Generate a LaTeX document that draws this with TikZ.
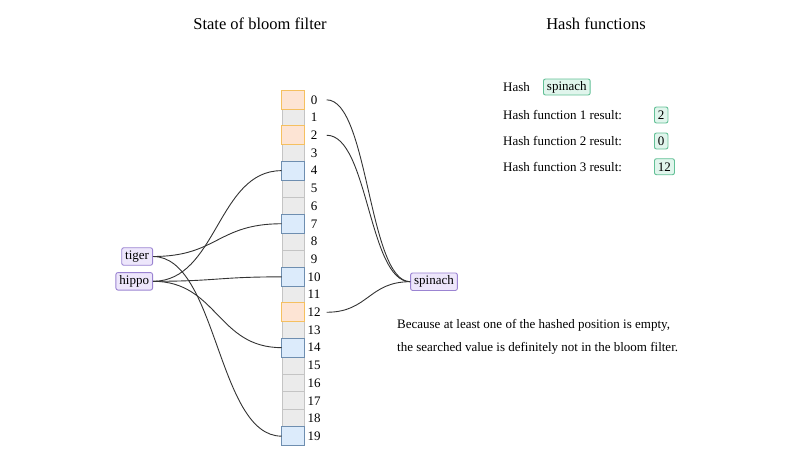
\documentclass[tikz,border=0pt]{standalone}
\usepackage{fontspec}
\setmainfont{Liberation Serif}
\usetikzlibrary{positioning,calc}
\definecolor{freefill}{HTML}{EBEBEB}
\definecolor{freeline}{HTML}{C4C4C4}
\definecolor{setfill}{HTML}{DCEBFB}
\definecolor{setline}{HTML}{6E8EB0}
\definecolor{probefill}{HTML}{FDE4D4}
\definecolor{probeline}{HTML}{F5C060}
\definecolor{itemfill}{HTML}{EDE6FB}
\definecolor{itemline}{HTML}{9B84D2}
\definecolor{hashfill}{HTML}{E0F5EC}
\definecolor{hashline}{HTML}{62C096}
\definecolor{linkcol}{HTML}{333333}
\tikzset{every node/.append style={font=\fontsize{13}{15}\selectfont}}
\tikzset{
  cell/.style={draw=freeline,fill=freefill,line width=1pt,minimum width=22pt,minimum height=17.7pt,inner sep=0pt},
  setcell/.style={draw=setline,fill=setfill,line width=1pt},
  probecell/.style={draw=probeline,fill=probefill,line width=1pt},
  idx/.style={inner sep=0pt,minimum width=25pt},
  item/.style={draw=itemline,fill=itemfill,line width=0.9pt,rounded corners=2pt,inner xsep=3.5pt,inner ysep=0pt,minimum height=17.5pt},
  hashbox/.style={draw=hashline,fill=hashfill,line width=0.9pt,rounded corners=2pt,inner xsep=3.5pt,inner ysep=0pt,minimum height=16pt},
  txt/.style={inner sep=0pt},
  title/.style={font=\fontsize{16.5}{18}\selectfont},
  link/.style={draw=linkcol,line width=0.9pt}
}
% horizontal link, flat at both ends
\newcommand{\hlink}[2]{\draw[link] (#1) .. controls ($(#1)!0.5!(#1 -| #2)$) and ($(#2)!0.5!(#2 -| #1)$) .. (#2);}

\begin{document}
\begin{tikzpicture}[x=1pt,y=-1pt]
\useasboundingbox (0,0) rectangle (800,466);
\node[title] (ttlstate) at (260,24) {State of bloom filter};
\node[title] (ttlhash) at (596,24) {Hash functions};
% filter cells
\foreach \i in {0,...,19}{
  \node[cell] (c\i) at (293,{99.85+17.7*\i}) {};
  \node[idx] (l\i) at ([xshift=9.5pt]c\i.east) {\i};
}
\foreach \i in {4,7,10,14,19}
  \draw[setcell] (c\i.south west) rectangle (c\i.north east);
\foreach \i in {0,2,12}
  \draw[probecell] (c\i.south west) rectangle (c\i.north east);
% stored items
\node[item,anchor=east] (tiger) at (153,256.5) {tiger};
\node[item,anchor=east] (hippo) at (153,281.3) {hippo};
\node[item] (spinach) at (434,281.7) {spinach};
\foreach \j in {7,19} {\hlink{tiger.east}{c\j.west}}
\foreach \j in {4,10,14} {\hlink{hippo.east}{c\j.west}}
\foreach \j in {0,2,12} {\hlink{l\j.east}{spinach.west}}
% hash panel
\node[txt,anchor=west] (hashlbl) at (503,87) {Hash};
\node[hashbox,anchor=west] (hashkey) at (543,87) {spinach};
\node[txt,anchor=west] (fun1) at (503,115) {Hash function 1 result:};
\node[txt,anchor=west] (fun2) at (503,141) {Hash function 2 result:};
\node[txt,anchor=west] (fun3) at (503,166.7) {Hash function 3 result:};
\node[hashbox,anchor=west] (res1) at (654,115) {2};
\node[hashbox,anchor=west] (res2) at (654,141) {0};
\node[hashbox,anchor=west] (res3) at (654,166.7) {12};
\node[txt,anchor=west,align=left,font=\fontsize{13}{23}\selectfont] (verdict) at (397,337)
  {Because at least one of the hashed position is empty,\\the searched value is definitely not in the bloom filter.};
\end{tikzpicture}
\end{document}
